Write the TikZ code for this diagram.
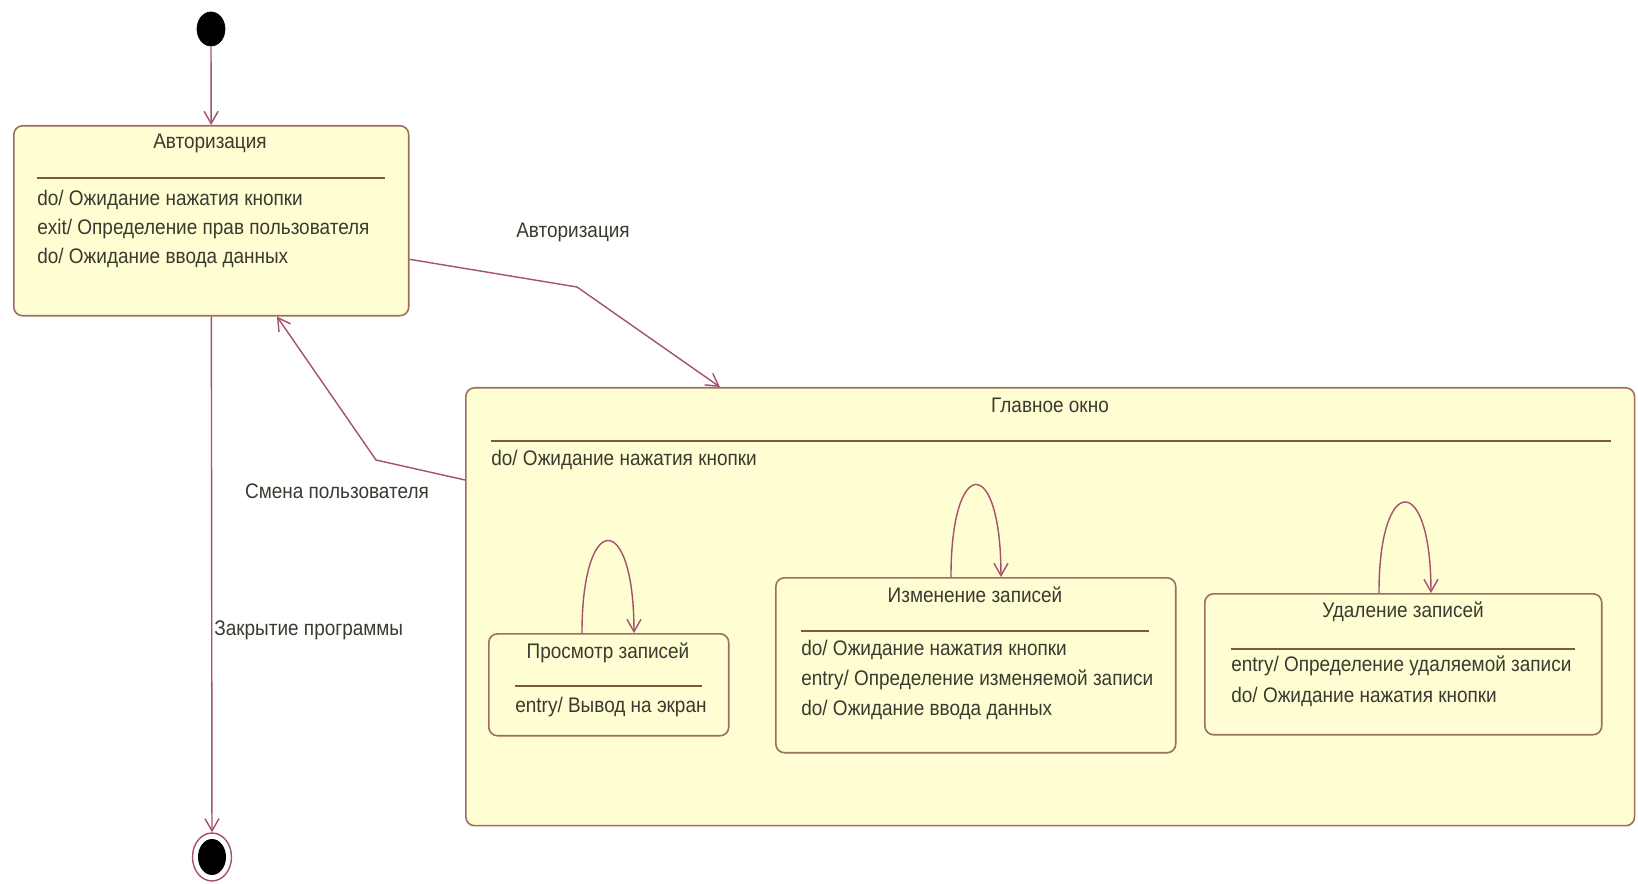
\documentclass[tikz,border=0pt]{standalone}
\usepackage{fontspec}
\setmainfont{Liberation Sans}[FakeStretch=0.9]
\usetikzlibrary{arrows.meta,shapes.geometric}
\definecolor{stfill}{HTML}{FFFDD2}
\definecolor{stdraw}{HTML}{9C6E5E}
\definecolor{trans}{HTML}{A5506E}
\definecolor{sepline}{HTML}{7E5A36}
\definecolor{txt}{HTML}{3A3A30}
\begin{document}
\begin{tikzpicture}
          [x=0.02cm,y=-0.02cm,every node/.style={font=\fontsize{12}{14.5}\selectfont, text=txt},
           state/.style={draw=stdraw, fill=stfill, rounded corners=5pt, line width=0.9pt, anchor=north west, inner sep=0pt},
           title/.style={anchor=center, inner sep=0pt},
           act/.style={anchor=west, inner sep=0pt, align=left},
           sep/.style={draw=sepline, line width=0.8pt},
           trans/.style={draw=trans, line width=0.8pt, -{Straight Barb[length=7pt,width=8pt]}},
           lbl/.style={inner sep=0pt}]
        \useasboundingbox (0,0) rectangle (1638,884);

        % initial and final states
        \node[ellipse, fill=black, draw=black, minimum width=0.56cm, minimum height=0.68cm, inner sep=0pt] (init) at (211,29) {};
        \node[ellipse, draw=trans, line width=0.8pt, fill=white, minimum width=0.78cm, minimum height=0.96cm, inner sep=0pt] (fin) at (212,857) {};
        \node[ellipse, fill=black, minimum width=0.56cm, minimum height=0.72cm, inner sep=0pt] (finc) at (212,857) {};

        % states
        \node[state, minimum width=7.9cm, minimum height=3.8cm] (auth) at (13,125) {};
        \node[title] (authT) at (210,143) {Авторизация};
        \draw[sep] (37,178) -- (385,178);
        \node[act] (authA) at (37,200) {do/ Ожидание нажатия кнопки};
        \node[act] (authB) at (37,229) {exit/ Определение прав пользователя};
        \node[act] (authC) at (37,258) {do/ Ожидание ввода данных};

        \node[state, minimum width=23.38cm, minimum height=8.76cm] (main) at (465,387) {};
        \node[title] (mainT) at (1050,405) {Главное окно};
        \draw[sep] (491,441) -- (1611,441);
        \node[act] (mainA) at (491,460) {do/ Ожидание нажатия кнопки};

        \node[state, minimum width=4.8cm, minimum height=2.04cm] (view) at (488,633) {};
        \node[title] (viewT) at (608,653) {Просмотр записей};
        \draw[sep] (515,686) -- (702,686);
        \node[act] (viewA) at (515,707) {entry/ Вывод на экран};

        \node[state, minimum width=8cm, minimum height=3.5cm] (edit) at (775,577) {};
        \node[title] (editT) at (975,595) {Изменение записей};
        \draw[sep] (801,631) -- (1149,631);
        \node[act] (editA) at (801,650) {do/ Ожидание нажатия кнопки};
        \node[act] (editB) at (801,680) {entry/ Определение изменяемой записи};
        \node[act] (editC) at (801,710) {do/ Ожидание ввода данных};

        \node[state, minimum width=7.94cm, minimum height=2.82cm] (del) at (1204,593) {};
        \node[title] (delT) at (1403,612) {Удаление записей};
        \draw[sep] (1231,649) -- (1575,649);
        \node[act] (delA) at (1231,666) {entry/ Определение удаляемой записи};
        \node[act] (delB) at (1231,697) {do/ Ожидание нажатия кнопки};

        % transitions
        \coordinate (b1) at (577,287);
        \coordinate (b2) at (376,460);
        \draw[trans] (init) -- (auth);
        \draw[trans] (auth.-11.4) -- (b1) -- ([xshift=5.1cm]main.north west);
        \draw[trans] ([yshift=-1.86cm]main.north west) -- (b2) -- ([xshift=5.28cm]auth.south west);
        \draw[trans] (auth) -- (fin);

        \draw[trans] ([xshift=1.88cm]view.north west) .. controls +(0,-123) and +(0,-123) .. ([xshift=2.92cm]view.north west);
        \draw[trans] ([xshift=3.52cm]edit.north west) .. controls +(0,-123) and +(0,-123) .. ([xshift=4.52cm]edit.north west);
        \draw[trans] ([xshift=3.5cm]del.north west) .. controls +(0,-121) and +(0,-121) .. ([xshift=4.54cm]del.north west);

        \node[lbl] (lAuth) at (573,232) {Авторизация};
        \node[lbl] (lUser) at (337,491) {Смена пользователя};
        \node[lbl, anchor=west] (lExit) at (214,630) {Закрытие программы};
      \end{tikzpicture}
\end{document}
